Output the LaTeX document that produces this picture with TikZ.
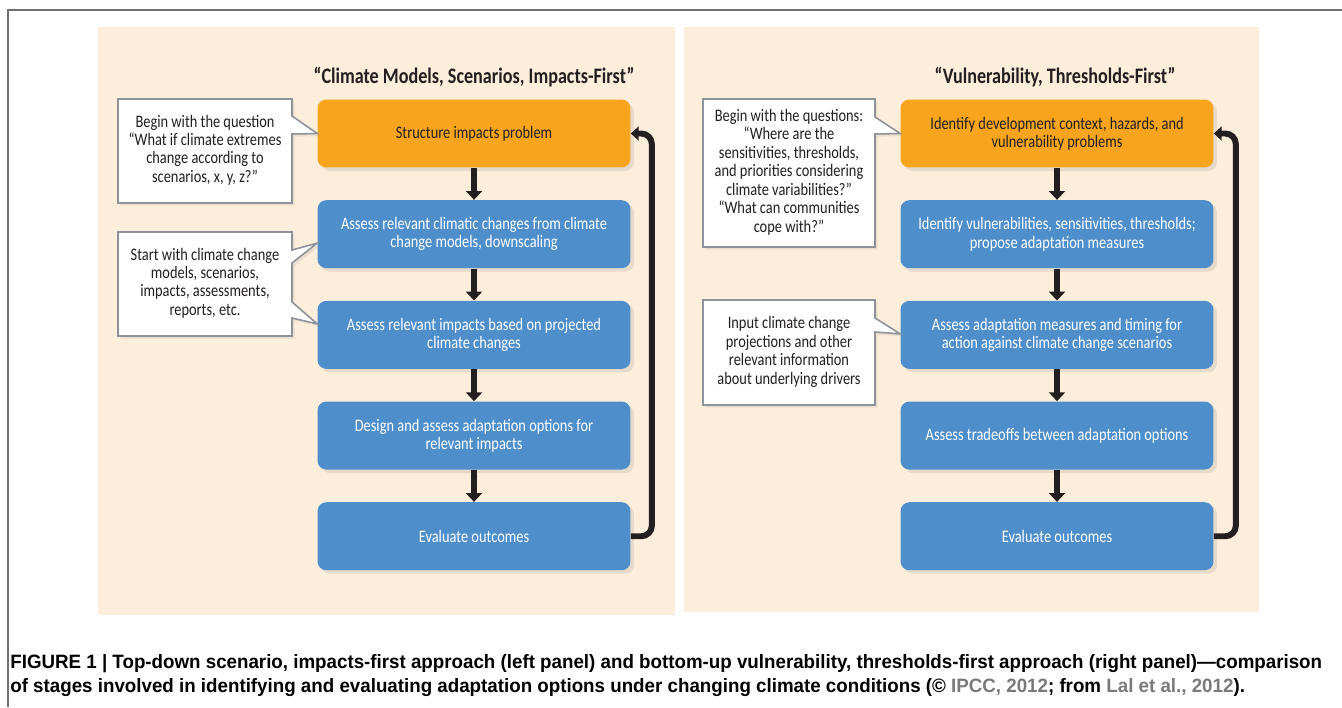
\documentclass[tikz,border=0pt]{standalone}
\usepackage{fontspec}
\usepackage{xcolor}
\usetikzlibrary{arrows.meta, positioning, calc, shadows}
\setmainfont{Carlito}[FakeStretch=0.82]
\newfontfamily\capfont{Liberation Sans}[FakeStretch=0.97]
\definecolor{panelbg}{HTML}{FDEEDC}
\definecolor{stageorange}{HTML}{F8A51D}
\definecolor{stageblue}{HTML}{4E8ECB}
\definecolor{arrowdark}{HTML}{231F20}
\definecolor{calloutgray}{HTML}{8E939B}
\definecolor{framegray}{HTML}{707070}
\definecolor{refgray}{HTML}{7A7A7A}

\tikzset{
    stage/.style={rounded corners=5pt, minimum width=6.26cm, minimum height=1.36cm,
        inner sep=0pt, align=center, font=\fontsize{10}{10.4}\selectfont,
        drop shadow={shadow xshift=2pt, shadow yshift=-2pt, opacity=0.18}},
    first/.style={stage, fill=stageorange, text=arrowdark},
    later/.style={stage, fill=stageblue, text=white},
    flow/.style={draw=arrowdark, line width=3.6pt, -{Triangle[width=9pt, length=5pt]}},
    loopback/.style={draw=arrowdark, line width=3.4pt, rounded corners=6pt,
        -{Triangle[width=8pt, length=4.5pt]}},
    callout/.style={fill=white, draw=calloutgray, line width=0.9pt,
        drop shadow={shadow xshift=1.5pt, shadow yshift=-1.5pt, opacity=0.15}},
    calltext/.style={align=center, font=\fontsize{10}{10.5}\selectfont, text=arrowdark},
    paneltitle/.style={font=\bfseries\fontsize{12.6}{13}\selectfont, text=arrowdark}
}

\begin{document}
\begin{tikzpicture}[x=0.02cm, y=-0.02cm]
    \useasboundingbox (0,0) rectangle (1342,707);
    % frame and panels
    \draw[framegray, line width=0.9pt] (8,707) -- (8,10) -- (1342,10);
    \fill[panelbg] (98,27) rectangle (675,615);
    \fill[panelbg] (684,27) rectangle (1259,612);

    \node[paneltitle] (ltitle) at (474,77) {“Climate Models, Scenarios, Impacts-First”};
    \node[paneltitle] (rtitle) at (1055,77) {“Vulnerability, Thresholds-First”};

    % left panel stages
    \node[first] (l1) at (474,133.5) {Structure impacts problem};
    \node[later, below=0.64cm of l1] (l2) {Assess relevant climatic changes from climate\\change models, downscaling};
    \node[later, below=0.64cm of l2] (l3) {Assess relevant impacts based on projected\\climate changes};
    \node[later, below=0.64cm of l3] (l4) {Design and assess adaptation options for\\relevant impacts};
    \node[later, below=0.64cm of l4] (l5) {Evaluate outcomes};

    % right panel stages
    \node[first] (r1) at (1057,133.5) {Identify development context, hazards, and\\vulnerability problems};
    \node[later, below=0.64cm of r1] (r2) {Identify vulnerabilities, sensitivities, thresholds;\\propose adaptation measures};
    \node[later, below=0.64cm of r2] (r3) {Assess adaptation measures and timing for\\action against climate change scenarios};
    \node[later, below=0.64cm of r3] (r4) {Assess tradeoffs between adaptation options};
    \node[later, below=0.64cm of r4] (r5) {Evaluate outcomes};

    \foreach \a/\b in {l1/l2, l2/l3, l3/l4, l4/l5, r1/r2, r2/r3, r3/r4, r4/r5}
        \draw[flow] (\a) -- (\b);

    \draw[loopback] (l5.east) -- ++(21,0) |- (l1.east);
    \draw[loopback] (r5.east) -- ++(22,0) |- (r1.east);

    % callouts
    \filldraw[callout] (118,99) -- (292,99) -- (292,116) -- (l1.west) -- (292,134)
        -- (292,203) -- (118,203) -- cycle;
    \node[calltext] (q1) at (205,150) {Begin with the question\\“What if climate extremes\\change according to\\scenarios, x, y, z?”};

    \filldraw[callout] (118,232) -- (292,232) -- (292,250) -- ($(l2.west)+(0,9)$) -- (292,263)
        -- (292,302) -- ($(l3.west)+(0,-11)$) -- (292,318) -- (292,336) -- (118,336) -- cycle;
    \node[calltext] (q2) at (205,283) {Start with climate change\\models, scenarios,\\impacts, assessments,\\reports, etc.};

    \filldraw[callout] (703,99) -- (875,99) -- (875,117) -- (r1.west) -- (875,134)
        -- (875,247) -- (703,247) -- cycle;
    \node[calltext] (q3) at (789,172) {Begin with the questions:\\“Where are the\\sensitivities, thresholds,\\and priorities considering\\climate variabilities?”\\“What can communities\\cope with?”};

    \filldraw[callout] (703,300) -- (875,300) -- (875,318) -- ($(r3.west)+(0,-1)$) -- (875,332)
        -- (875,405) -- (703,405) -- cycle;
    \node[calltext] (q4) at (789,352) {Input climate change\\projections and other\\relevant information\\about underlying drivers};

    % caption
    \node[anchor=base west, inner sep=0pt, font=\capfont\bfseries\fontsize{11}{13}\selectfont] (cap1) at (10,668)
        {FIGURE 1 | Top-down scenario, impacts-first approach (left panel) and bottom-up vulnerability, thresholds-first approach (right panel)—comparison};
    \node[anchor=base west, inner sep=0pt, font=\capfont\bfseries\fontsize{11}{13}\selectfont] (cap2) at (10,692)
        {of stages involved in identifying and evaluating adaptation options under changing climate conditions (© \textcolor{refgray}{IPCC, 2012}; from \textcolor{refgray}{Lal et al., 2012}).};
\end{tikzpicture}
\end{document}
